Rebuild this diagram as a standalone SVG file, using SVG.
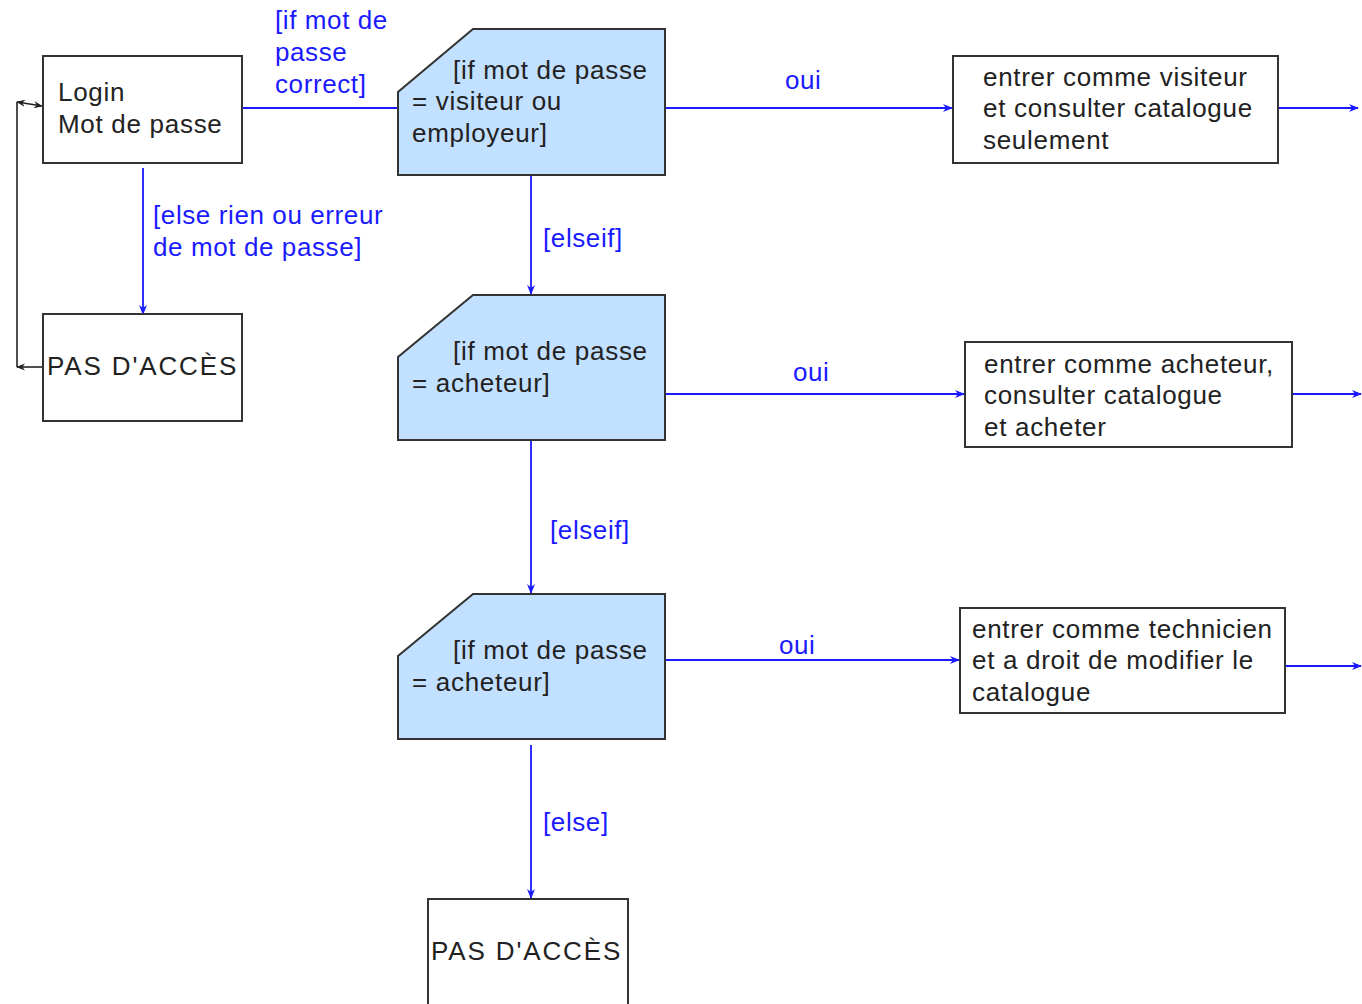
<svg xmlns="http://www.w3.org/2000/svg" width="1362" height="1004" viewBox="0 0 1362 1004">
  <style>
    .box { fill: #ffffff; stroke: #333333; stroke-width: 2; }
    .dec { fill: #c2e0ff; stroke: #333333; stroke-width: 2; }
    .t { font-family: "Liberation Sans", Arial, sans-serif; font-size: 26px; fill: #222222; letter-spacing: 0.7px; }
    .lbl { font-family: "Liberation Sans", Arial, sans-serif; font-size: 26px; fill: #1a1aff; letter-spacing: 0.6px; }
    .edge { fill: none; stroke: #1a1aff; stroke-width: 1.8; }
    .back { fill: none; stroke: #222222; stroke-width: 1.6; }
  </style>
  <defs>
    <marker id="ah" viewBox="0 0 10 10" refX="9" refY="5" markerWidth="10" markerHeight="10" markerUnits="userSpaceOnUse" orient="auto">
      <path d="M0,1 L10,5 L0,9 L3,5 z" fill="#1a1aff"/>
    </marker>
    <marker id="ahk" viewBox="0 0 10 10" refX="9" refY="5" markerWidth="9" markerHeight="9" markerUnits="userSpaceOnUse" orient="auto-start-reverse">
      <path d="M0,1 L10,5 L0,9 L3,5 z" fill="#222222"/>
    </marker>
  </defs>

  <rect width="1362" height="1004" fill="#ffffff"/>

  <g id="connectors">
    <line class="edge" x1="242" y1="108" x2="398" y2="108"/>
    <line class="edge" x1="665" y1="108" x2="952" y2="108" marker-end="url(#ah)"/>
    <line class="edge" x1="1278" y1="108" x2="1358" y2="108" marker-end="url(#ah)"/>
    <line class="edge" x1="143" y1="168" x2="143" y2="314" marker-end="url(#ah)"/>
    <line class="edge" x1="531" y1="175" x2="531" y2="294" marker-end="url(#ah)"/>
    <line class="edge" x1="665" y1="394" x2="964" y2="394" marker-end="url(#ah)"/>
    <line class="edge" x1="1292" y1="394" x2="1361" y2="394" marker-end="url(#ah)"/>
    <line class="edge" x1="531" y1="440" x2="531" y2="593" marker-end="url(#ah)"/>
    <line class="edge" x1="662" y1="660" x2="959" y2="660" marker-end="url(#ah)"/>
    <line class="edge" x1="1285" y1="666" x2="1361" y2="666" marker-end="url(#ah)"/>
    <line class="edge" x1="531" y1="745" x2="531" y2="898" marker-end="url(#ah)"/>
    <!-- return loop from PAS D'ACCES back to login -->
    <polyline class="back" points="43,367 17,367" marker-end="url(#ahk)"/>
    <line class="back" x1="17" y1="367" x2="17" y2="102"/>
    <line class="back" x1="17" y1="102" x2="42" y2="106" marker-start="url(#ahk)" marker-end="url(#ahk)"/>

    <text class="lbl" x="275" y="29">[if mot de</text>
    <text class="lbl" x="275" y="61">passe</text>
    <text class="lbl" x="275" y="93">correct]</text>
    <text class="lbl" x="785" y="89">oui</text>
    <text class="lbl" x="153" y="224">[else rien ou erreur</text>
    <text class="lbl" x="153" y="256">de mot de passe]</text>
    <text class="lbl" x="543" y="247">[elseif]</text>
    <text class="lbl" x="793" y="381">oui</text>
    <text class="lbl" x="550" y="539">[elseif]</text>
    <text class="lbl" x="779" y="654">oui</text>
    <text class="lbl" x="543" y="831">[else]</text>
  </g>

  <g id="login">
    <rect class="box" x="43" y="56" width="199" height="107"/>
    <text class="t" x="58" y="101">Login</text>
    <text class="t" x="58" y="133">Mot de passe</text>
  </g>

  <g id="refus1">
    <rect class="box" x="43" y="314" width="199" height="107"/>
    <text class="t" x="47" y="375" textLength="190" lengthAdjust="spacing">PAS D'ACCÈS</text>
  </g>

  <g id="test-visiteur">
    <path class="dec" d="M473,29 H665 V175 H398 V92 Z"/>
    <text class="t" x="453" y="79">[if mot de passe</text>
    <text class="t" x="412" y="110">= visiteur ou</text>
    <text class="t" x="412" y="142">employeur]</text>
  </g>

  <g id="test-acheteur">
    <path class="dec" d="M473,295 H665 V440 H398 V357 Z"/>
    <text class="t" x="453" y="360">[if mot de passe</text>
    <text class="t" x="412" y="392">= acheteur]</text>
  </g>

  <g id="test-technicien">
    <path class="dec" d="M473,594 H665 V739 H398 V656 Z"/>
    <text class="t" x="453" y="659">[if mot de passe</text>
    <text class="t" x="412" y="691">= acheteur]</text>
  </g>

  <g id="visiteur">
    <rect class="box" x="953" y="56" width="325" height="107"/>
    <text class="t" x="983" y="86">entrer comme visiteur</text>
    <text class="t" x="983" y="117">et consulter catalogue</text>
    <text class="t" x="983" y="149">seulement</text>
  </g>

  <g id="acheteur">
    <rect class="box" x="965" y="342" width="327" height="105"/>
    <text class="t" x="984" y="373">entrer comme acheteur,</text>
    <text class="t" x="984" y="404">consulter catalogue</text>
    <text class="t" x="984" y="436">et acheter</text>
  </g>

  <g id="technicien">
    <rect class="box" x="960" y="608" width="325" height="105"/>
    <text class="t" x="972" y="638">entrer comme technicien</text>
    <text class="t" x="972" y="669">et a droit de modifier le</text>
    <text class="t" x="972" y="701">catalogue</text>
  </g>

  <g id="refus2">
    <rect class="box" x="428" y="899" width="200" height="110"/>
    <text class="t" x="431" y="960" textLength="190" lengthAdjust="spacing">PAS D'ACCÈS</text>
  </g>
</svg>
